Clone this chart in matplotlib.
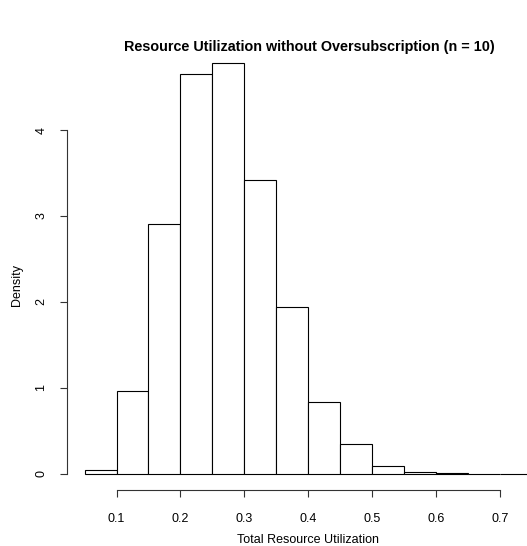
import numpy as np
import matplotlib.pyplot as plt

plt.rcParams['font.family'] = ['Liberation Sans', 'DejaVu Sans']

# histogram bins (left edges) and densities
bin_left = [0.05, 0.10, 0.15, 0.20, 0.25, 0.30, 0.35, 0.40, 0.45, 0.50, 0.55, 0.60, 0.65, 0.70]
density = [0.05, 0.965, 2.907, 4.65, 4.78, 3.42, 1.94, 0.837, 0.35, 0.093, 0.025, 0.006, 0.0, 0.003]
bin_width = 0.05

x_ticks = [0.1, 0.2, 0.3, 0.4, 0.5, 0.6, 0.7]
y_ticks = [0, 1, 2, 3, 4]

W, H = 527, 546
fig = plt.figure(figsize=(W / 100, H / 100), dpi=100)

# plot region in pixels (R style, extends past right edge)
left, right, top, bottom = 66.7, 549.7, 46.6, 490.4
ax = fig.add_axes([left / W, 1 - bottom / H, (right - left) / W, (bottom - top) / H])

ax.bar(bin_left, density, width=bin_width, align='edge',
       facecolor='white', edgecolor='black', linewidth=0.8)

ax.set_xlim(0.022, 0.778)
ax.set_ylim(-0.191, 4.97)

for s in ['top', 'right']:
    ax.spines[s].set_visible(False)
ax.spines['left'].set_bounds(0, 4)
ax.spines['bottom'].set_bounds(0.1, 0.7)
ax.spines['left'].set_linewidth(0.8)
ax.spines['bottom'].set_linewidth(0.8)
ax.spines['left'].set_color('#333333')
ax.spines['bottom'].set_color('#333333')

ax.set_xticks(x_ticks)
ax.set_xticklabels([str(t) for t in x_ticks])
ax.set_yticks(y_ticks)
ax.set_yticklabels([str(t) for t in y_ticks], rotation=90, va='center')
ax.tick_params(axis='both', length=5, width=0.8, labelsize=9, color='#333333')
ax.tick_params(axis='x', pad=11)
ax.tick_params(axis='y', pad=9)

fig.text(309 / W, 1 - 47 / H, 'Resource Utilization without Oversubscription (n = 10)',
         ha='center', va='center', fontsize=10.4, fontweight='bold')
fig.text(308 / W, 1 - 540 / H, 'Total Resource Utilization',
         ha='center', va='center', fontsize=9)
fig.text(17 / W, 1 - 285 / H, 'Density', ha='center', va='center',
         rotation=90, fontsize=9)

plt.savefig('out.png', dpi=100, facecolor='white')
